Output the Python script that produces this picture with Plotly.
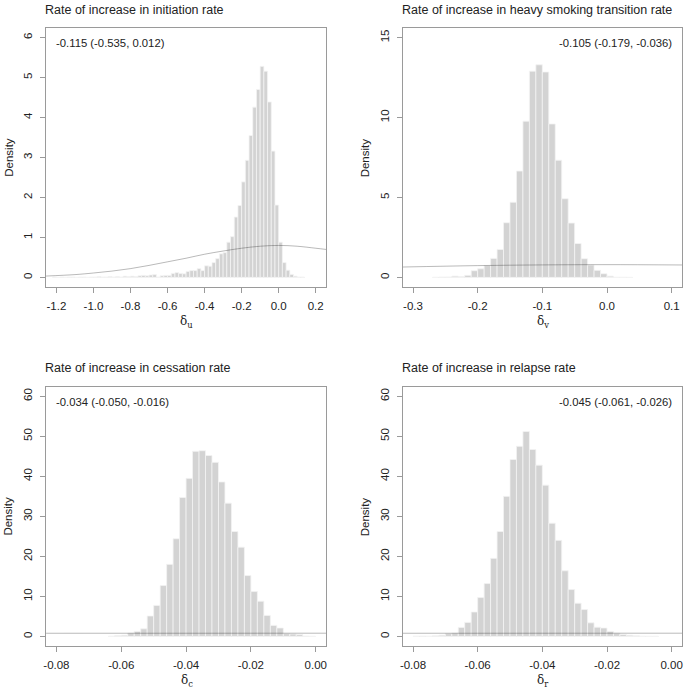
import numpy as np
import plotly.graph_objects as go

W, H = 685, 689

# ---------------- data ----------------
titles = ["Rate of increase in initiation rate",
          "Rate of increase in heavy smoking transition rate",
          "Rate of increase in cessation rate",
          "Rate of increase in relapse rate"]
summaries = ["-0.115 (-0.535, 0.012)", "-0.105 (-0.179, -0.036)",
             "-0.034 (-0.050, -0.016)", "-0.045 (-0.061, -0.026)"]
xlabels = ["δ<sub>u</sub>", "δ<sub>v</sub>", "δ<sub>c</sub>", "δ<sub>r</sub>"]

# panel 1 (initiation): bin width 0.02, left edges from -1.22
p1_width = 0.02
p1_edges = np.round(np.arange(-1.22, 0.13, 0.02), 3)
p1_density = [0.01, 0.0, 0.01, 0.0, 0.01, 0.01, 0.0, 0.01, 0.01, 0.0, 0.01, 0.01,
              0.02, 0.01, 0.01, 0.02, 0.01, 0.02, 0.01, 0.03, 0.02, 0.03,
              0.02, 0.04, 0.05, 0.04, 0.06, 0.07, 0.01, 0.04, 0.05, 0.05,
              0.10, 0.12, 0.10, 0.09, 0.15, 0.17, 0.17, 0.22, 0.17, 0.29,
              0.28, 0.37, 0.47, 0.59, 0.62, 0.88, 1.02, 1.51, 1.80, 2.39,
              2.93, 3.55, 4.26, 4.70, 5.28, 5.16, 4.39, 3.16, 1.81, 0.88,
              0.37, 0.18, 0.075, 0.03, 0.01, 0.01]
p1_prior_x = [-1.256, -1.1, -1.0, -0.9, -0.8, -0.7, -0.6, -0.5, -0.4, -0.3, -0.2, -0.1, 0.0, 0.1, 0.2, 0.256]
p1_prior_y = [0.034, 0.07, 0.11, 0.158, 0.22, 0.30, 0.39, 0.48, 0.58, 0.66, 0.73, 0.78, 0.80, 0.78, 0.73, 0.70]

# panel 2 (heavy smoking transition): bin width 0.01, left edges from -0.27
p2_width = 0.01
p2_edges = np.round(np.arange(-0.27, 0.035, 0.01), 3)
p2_density = [0.01, 0.02, 0.03, 0.08, 0.04, 0.13, 0.42, 0.54, 0.75, 1.19, 1.75,
              3.42, 4.70, 6.65, 9.77, 12.9, 13.3, 12.85, 9.6, 7.33, 4.92,
              3.40, 2.12, 1.17, 0.77, 0.44, 0.23, 0.08, 0.01, 0.01, 0.005]
p2_prior_x = [-0.316, -0.2, -0.1, 0.0, 0.116]
p2_prior_y = [0.65, 0.737, 0.782, 0.798, 0.777]

# panel 3 (cessation): bin width 0.002, left edges from -0.064
p3_width = 0.002
p3_edges = np.round(np.arange(-0.064, -0.0015, 0.002), 4)
p3_density = [0.05, 0.2, 0.3, 0.83, 1.25, 1.9, 5.1, 7.75, 12.7, 18.0, 24.4,
              34.7, 39.5, 46.25, 46.4, 45.2, 43.5, 38.6, 33.3, 26.2, 22.3,
              15.2, 11.2, 8.8, 5.25, 2.75, 2.1, 0.7, 0.6, 0.45, 0.1, 0.02]
p3_prior_x = [-0.0832, 0.0032]
p3_prior_y = [0.787, 0.798]

# panel 4 (relapse): bin width 0.002, left edges from -0.080
p4_width = 0.002
p4_edges = np.round(np.arange(-0.080, -0.0055, 0.002), 4)
p4_density = [0.05, 0.1, 0.05, 0.15, 0.3, 0.7, 0.83, 2.25, 3.5, 6.1, 9.7,
              13.2, 19.5, 26.2, 35.0, 44.2, 47.5, 51.2, 46.7, 42.8, 37.8,
              28.3, 24.0, 16.4, 11.7, 8.3, 6.7, 3.4, 2.3, 2.1, 1.25, 0.8,
              0.5, 0.3, 0.15, 0.05, 0.03, 0.02]
p4_prior_x = [-0.0832, 0.0032]
p4_prior_y = [0.787, 0.798]

x_ticks = [[-1.2, -1.0, -0.8, -0.6, -0.4, -0.2, 0.0, 0.2],
           [-0.3, -0.2, -0.1, 0.0, 0.1],
           [-0.08, -0.06, -0.04, -0.02, 0.00],
           [-0.08, -0.06, -0.04, -0.02, 0.00]]
x_ticktext = [["-1.2", "-1.0", "-0.8", "-0.6", "-0.4", "-0.2", "0.0", "0.2"],
              ["-0.3", "-0.2", "-0.1", "0.0", "0.1"],
              ["-0.08", "-0.06", "-0.04", "-0.02", "0.00"],
              ["-0.08", "-0.06", "-0.04", "-0.02", "0.00"]]
y_ticks = [[0, 1, 2, 3, 4, 5, 6],
           [0, 5, 10, 15],
           [0, 10, 20, 30, 40, 50, 60],
           [0, 10, 20, 30, 40, 50, 60]]
x_ranges = [[-1.256, 0.256], [-0.316, 0.116], [-0.0832, 0.0032], [-0.0832, 0.0032]]
y_ranges = [[-0.24, 6.24], [-0.6, 15.6], [-2.4, 62.4], [-2.4, 62.4]]

panels = [
    (p1_edges, p1_width, p1_density, p1_prior_x, p1_prior_y),
    (p2_edges, p2_width, p2_density, p2_prior_x, p2_prior_y),
    (p3_edges, p3_width, p3_density, p3_prior_x, p3_prior_y),
    (p4_edges, p4_width, p4_density, p4_prior_x, p4_prior_y),
]

# ---------------- layout (pixel boxes) ----------------
boxes = [  # left, right, top, bottom in px
    (43.3, 325.0, 28.0, 287.0),
    (402.0, 683.0, 28.0, 287.0),
    (43.3, 325.0, 386.7, 646.0),
    (402.0, 683.0, 386.7, 646.0),
]
summary_right = [False, True, False, True]

FONT = "Liberation Sans, Arial, Helvetica, sans-serif"
FRAME = "#9a9a9a"
TXT = "#222222"

fig = go.Figure()
layout = dict(width=W, height=H, margin=dict(l=0, r=0, t=0, b=0),
              paper_bgcolor="white", plot_bgcolor="white",
              showlegend=False, bargap=0, font=dict(family=FONT, color=TXT),
              annotations=[])

def px(x):
    return x / W

def py(y):
    return 1 - y / H

for i, (edges, width, dens, prx, pry) in enumerate(panels):
    n = i + 1
    xa = "x" if n == 1 else f"x{n}"
    ya = "y" if n == 1 else f"y{n}"
    centers = [e + width / 2 for e in edges]
    fig.add_trace(go.Bar(x=centers, y=dens, width=width, xaxis=xa, yaxis=ya,
                         marker=dict(color="#d3d3d3", line=dict(color="#f4f4f4", width=0.8)),
                         hoverinfo="skip"))
    fig.add_trace(go.Scatter(x=prx, y=pry, mode="lines", xaxis=xa, yaxis=ya,
                             line=dict(color="rgba(0,0,0,0.35)", width=0.8, shape="spline"),
                             hoverinfo="skip"))
    l, r, t, b = boxes[i]
    xkey = "xaxis" if n == 1 else f"xaxis{n}"
    ykey = "yaxis" if n == 1 else f"yaxis{n}"
    layout[xkey] = dict(domain=[px(l), px(r)], anchor=ya, range=x_ranges[i],
                        tickmode="array", tickvals=x_ticks[i], ticktext=x_ticktext[i],
                        ticks="outside", ticklen=5, tickcolor=FRAME, tickwidth=1,
                        showline=True, linecolor=FRAME, linewidth=1, mirror=True,
                        showgrid=False, zeroline=False, fixedrange=True,
                        tickfont=dict(size=11.5, color=TXT), ticklabelstandoff=3)
    layout[ykey] = dict(domain=[py(b), py(t)], anchor=xa, range=y_ranges[i],
                        tickmode="array", tickvals=y_ticks[i],
                        ticks="outside", ticklen=5, tickcolor=FRAME, tickwidth=1,
                        showline=True, linecolor=FRAME, linewidth=1, mirror=True,
                        showgrid=False, zeroline=False, tickangle=-90, fixedrange=True,
                        tickfont=dict(size=11.5, color=TXT), ticklabelstandoff=3)
    # title
    layout["annotations"].append(dict(text=titles[i], x=px(l - 3), y=py(t - 18.5), xref="paper", yref="paper",
                                      xanchor="left", yanchor="middle", showarrow=False,
                                      font=dict(size=12.5, color=TXT)))
    # summary
    if summary_right[i]:
        layout["annotations"].append(dict(text=summaries[i], x=px(675), y=py(t + 15.5), xref="paper",
                                          yref="paper", xanchor="right", yanchor="middle",
                                          showarrow=False, font=dict(size=11.3, color=TXT)))
    else:
        layout["annotations"].append(dict(text=summaries[i], x=px(l + 8), y=py(t + 15.5), xref="paper",
                                          yref="paper", xanchor="left", yanchor="middle",
                                          showarrow=False, font=dict(size=11.3, color=TXT)))
    # y label
    layout["annotations"].append(dict(text="Density", x=px(l - 38), y=py((t + b) / 2),
                                      xref="paper", yref="paper", xanchor="center", yanchor="middle",
                                      textangle=-90, showarrow=False, font=dict(size=11.5, color=TXT)))
    # x label
    layout["annotations"].append(dict(text=xlabels[i], x=px((l + r) / 2 + 0.5), y=py(b + 35),
                                      xref="paper", yref="paper", xanchor="center", yanchor="middle",
                                      showarrow=False,
                                      font=dict(size=12, color=TXT, family="DejaVu Serif, serif")))

fig.update_layout(**layout)
fig.write_html("out.html", config={"displayModeBar": False, "staticPlot": True},
               post_script="document.body.style.margin='0';document.body.style.padding='0';"
                           "document.body.style.overflow='hidden';")
